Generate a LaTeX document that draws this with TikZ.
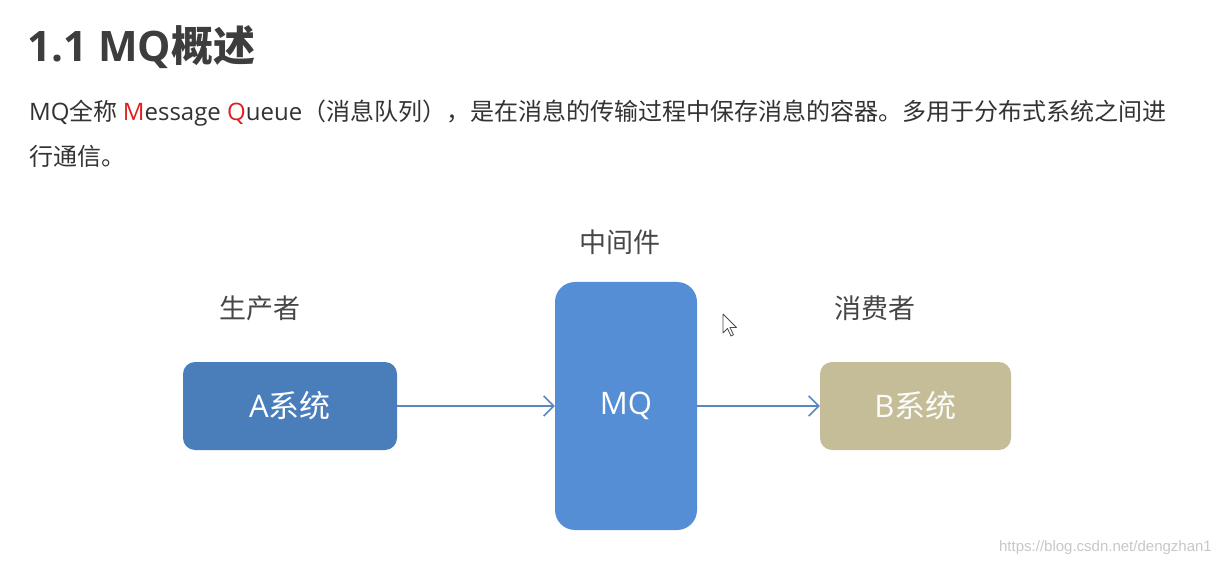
\documentclass[tikz,border=0pt]{standalone}
\usepackage{fontspec}
\newfontfamily\cjk{Noto Sans CJK SC}
\newfontfamily\lat{Open Sans}
\usepackage{xcolor}
\definecolor{ink}{HTML}{333333}
\definecolor{boxa}{HTML}{4A7EBB}
\definecolor{boxmq}{HTML}{558ED5}
\definecolor{boxb}{HTML}{C4BD97}
\definecolor{flow}{HTML}{5A87C2}
\definecolor{mark}{HTML}{E02020}
\definecolor{wm}{HTML}{C8C8C8}
\usetikzlibrary{arrows.meta}

\begin{document}
\begin{tikzpicture}[x=1pt,y=-1pt,>={Straight Barb[length=10pt,width=20pt]},
  every node/.style={font=\cjk,inner sep=0pt},
  sysbox/.style={rounded corners=12pt,text=white,font=\cjk\fontsize{31}{31}\selectfont},
  role/.style={text=ink!90,font=\cjk\fontsize{27}{27}\selectfont},
  body/.style={anchor=west,text=ink,font=\cjk\fontsize{24}{24}\selectfont}]
\useasboundingbox[fill=white] (0,0) rectangle (1218,569);
% heading and text
\node[anchor=west,text=ink!95,font=\cjk\bfseries\fontsize{42}{42}\selectfont] (title) at (27,47) {{\lat\bfseries 1.1 MQ}概述};
\node[body] (line1) at (29,113) {{\lat MQ}全称 {\lat\textcolor{mark}{M}essage \textcolor{mark}{Q}ueue}（消息队列），是在消息的传输过程中保存消息的容器。多用于分布式系统之间进};
\node[body] (line2) at (29,156) {行通信。};
% boxes
\node[sysbox,fill=boxa,minimum width=214pt,minimum height=88pt] (A) at (290,406) {{\lat A}系统};
\node[sysbox,fill=boxmq,rounded corners=20pt,minimum width=142pt,minimum height=248pt] (MQ) at (626,406) {\lat MQ};
\node[sysbox,fill=boxb,text=white!95!boxb,minimum width=191pt,minimum height=88pt] (B) at (915.5,406) {{\lat B}系统};
\node[role] (prod) at (260,308) {生产者};
\node[role] (mid) at (620,242) {中间件};
\node[role] (cons) at (875,308) {消费者};
\draw[->,flow,line width=1.6pt] (A) -- (MQ);
\draw[->,flow,line width=1.6pt] (MQ) -- (B);
% mouse pointer
\draw[black!70,fill=white,line width=0.8pt,line join=round] (723,314) -- ++(0,19) -- ++(4.5,-4.5) -- ++(3.5,7.5) -- ++(2.5,-1.2) -- ++(-3.5,-7.3) -- ++(6.5,0) -- cycle;
\node[anchor=east,text=wm,font=\fontspec{Liberation Sans}\fontsize{15}{15}\selectfont] (url) at (1212,548) {https://blog.csdn.net/dengzhan1};
\end{tikzpicture}
\end{document}
